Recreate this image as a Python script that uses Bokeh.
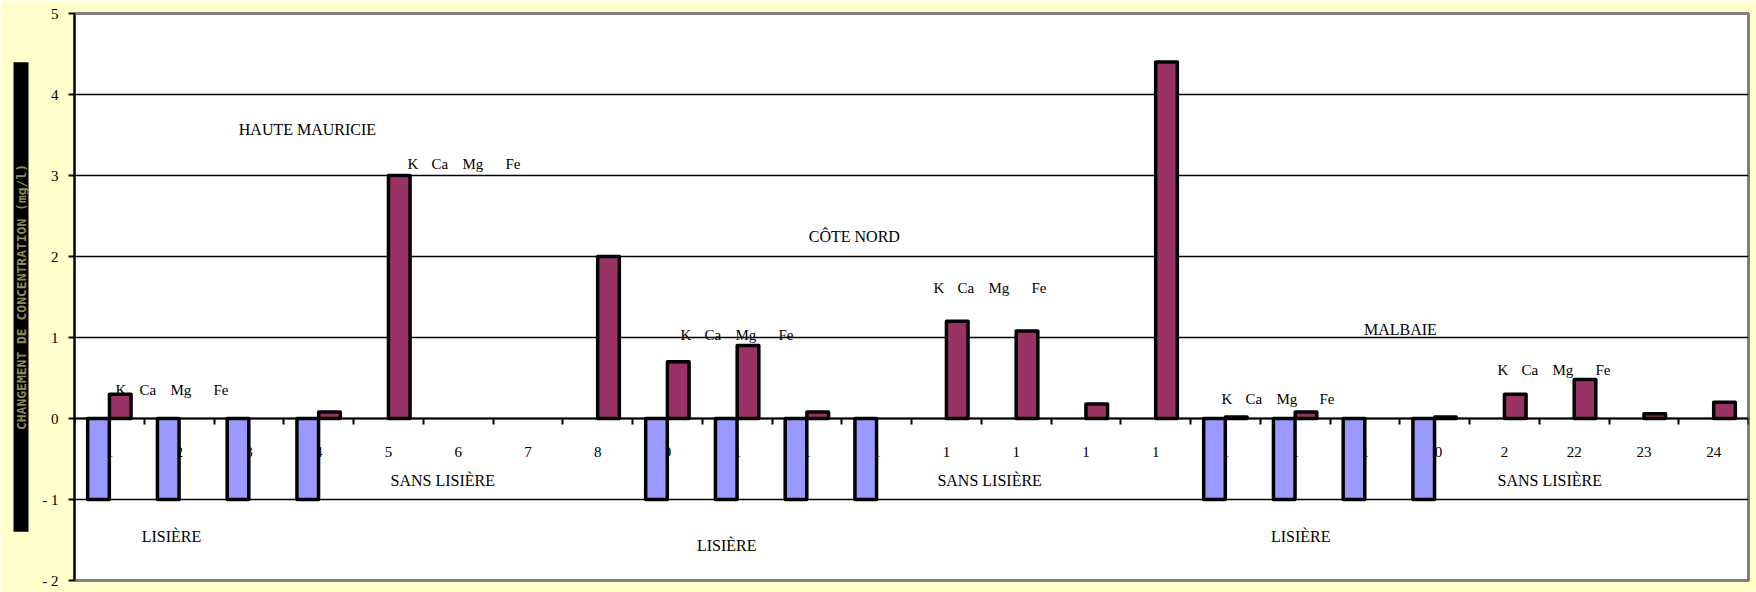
from bokeh.plotting import figure
from bokeh.models import Range1d, FixedTicker, ColumnDataSource, LinearAxis, Title
from bokeh.embed import file_html
from bokeh.resources import INLINE
from bokeh.core.properties import value
from bokeh.transform import dodge

# ---------------- data ----------------
categories = list(range(1, 25))
tick_labels = ["1", "2", "3", "4", "5", "6", "7", "8", "9", "1", "1", "1",
               "1", "1", "1", "1", "1", "1", "1", "20", "2", "22", "23", "24"]
lisiere = [-1, -1, -1, -1, 0, 0, 0, 0, -1, -1, -1, -1,
           0, 0, 0, 0, -1, -1, -1, -1, 0, 0, 0, 0]
concentration = [0.30, 0, 0, 0.08, 3.00, 0, 0, 2.00, 0.70, 0.90, 0.08, 0,
                 1.20, 1.08, 0.18, 4.40, 0.02, 0.08, 0, 0.02, 0.30, 0.48, 0.06, 0.20]
y_ticks = [-2, -1, 0, 1, 2, 3, 4, 5]
y_tick_labels = ["- 2", "- 1", "0", "1", "2", "3", "4", "5"]

region_names = ["HAUTE MAURICIE", "CÔTE NORD", "MALBAIE"]
region_x = [3.84, 11.68, 19.51]
region_y = [3.57, 2.25, 1.10]

sans_names = ["SANS LISIÈRE", "SANS LISIÈRE", "SANS LISIÈRE"]
sans_x = [5.78, 13.62, 21.65]
sans_y = [-0.765, -0.765, -0.765]

lis_names = ["LISIÈRE", "LISIÈRE", "LISIÈRE"]
lis_x = [1.89, 9.85, 18.08]
lis_y = [-1.457, -1.568, -1.457]

elements = ["K", "Ca", "Mg", "Fe"]
element_offsets = [0, 24, 55, 98]
element_group_x = [1.088, 5.274, 9.188, 12.815, 16.944, 20.90]
element_group_y = [0.358, 3.148, 1.037, 1.617, 0.235, 0.593]

y_title = "CHANGEMENT DE CONCENTRATION (mg/l)"

SERIF = value("Liberation Serif")

# ---------------- figure ----------------
p = figure(width=1756, height=592, output_backend="svg", toolbar_location=None,
           x_range=Range1d(0.5, 24.5), y_range=Range1d(-2, 5),
           x_axis_location=None, min_border_left=74, min_border_right=8,
           min_border_top=13, min_border_bottom=12)
p.border_fill_color = "#FFFFCC"
p.background_fill_color = "white"
p.outline_line_color = "#808080"
p.outline_line_width = 3

# y axis
p.yaxis.ticker = FixedTicker(ticks=y_ticks)
p.yaxis.major_label_overrides = {t: l for t, l in zip(y_ticks, y_tick_labels)}
p.yaxis.major_label_text_font = "Liberation Serif"
p.yaxis.major_label_text_font_size = "15px"
p.yaxis.major_label_text_color = "black"
p.yaxis.axis_line_color = "black"
p.yaxis.axis_line_width = 2
p.yaxis.major_tick_line_color = "black"
p.yaxis.major_tick_line_width = 2
p.yaxis.major_tick_out = 6
p.yaxis.major_tick_in = 0
p.yaxis.minor_tick_line_color = None
p.yaxis.major_label_standoff = 10

p.ygrid.ticker = FixedTicker(ticks=y_ticks)
p.ygrid.grid_line_color = "black"
p.ygrid.grid_line_width = 1.6
p.xgrid.grid_line_color = None

# category axis at y = 0
bounds = [c - 0.5 for c in categories] + [categories[-1] + 0.5]
cat_axis = LinearAxis(fixed_location=0, ticker=FixedTicker(ticks=[], minor_ticks=bounds))
cat_axis.axis_line_color = "black"
cat_axis.axis_line_width = 2
cat_axis.minor_tick_line_color = "black"
cat_axis.minor_tick_line_width = 2
cat_axis.minor_tick_out = 6
cat_axis.minor_tick_in = 0
cat_axis.major_tick_line_color = None
cat_axis.major_label_text_font_size = "0px"
p.add_layout(cat_axis, "below")

# category labels (drawn below the bars, like the original)
p.text(x=categories, y=[-0.41] * len(categories), text=tick_labels,
       text_align="center", text_baseline="middle", text_font=SERIF,
       text_font_size="15px", text_color="black")

# bars
b_src = ColumnDataSource(dict(
    x=[c for c, v in zip(categories, lisiere) if v != 0],
    v=[v for v in lisiere if v != 0]))
m_src = ColumnDataSource(dict(
    x=[c for c, v in zip(categories, concentration) if v != 0],
    v=[v for v in concentration if v != 0]))
p.vbar(x=dodge("x", -0.156), top=0, bottom="v", width=0.31, source=b_src,
       fill_color="#9999FF", line_color="black", line_width=3.5, line_join="round")
p.vbar(x=dodge("x", 0.156), top="v", bottom=0, width=0.31, source=m_src,
       fill_color="#993366", line_color="black", line_width=3.5, line_join="round")

# text annotations
def texts(xs, ys, ts, align="center"):
    p.text(x=xs, y=ys, text=ts, text_align=align, text_baseline="middle",
           text_font=SERIF, text_font_size="16px", text_color="black")

texts(region_x, region_y, region_names)
texts(sans_x, sans_y, sans_names)
texts(lis_x, lis_y, lis_names)

ex, ey, et, eo = [], [], [], []
for gx, gy in zip(element_group_x, element_group_y):
    for el, off in zip(elements, element_offsets):
        ex.append(gx); ey.append(gy); et.append(el); eo.append(off)
e_src = ColumnDataSource(dict(x=ex, y=ey, text=et, off=eo))
p.text(x="x", y="y", text="text", x_offset="off", source=e_src,
       text_align="left", text_baseline="middle", text_font=SERIF,
       text_font_size="15px", text_color="black")

# y axis title: dark box (non-breaking spaces lengthen the box)
pad = "\u00a0" * 13
p.add_layout(Title(text=pad + y_title + pad, align="center",
                   text_font="DejaVu Sans Mono", text_font_size="13px",
                   text_font_style="bold", text_color="#8c8c5a",
                   background_fill_color="black", standoff=22), "left")

open("out.html", "w").write(file_html(p, INLINE))
